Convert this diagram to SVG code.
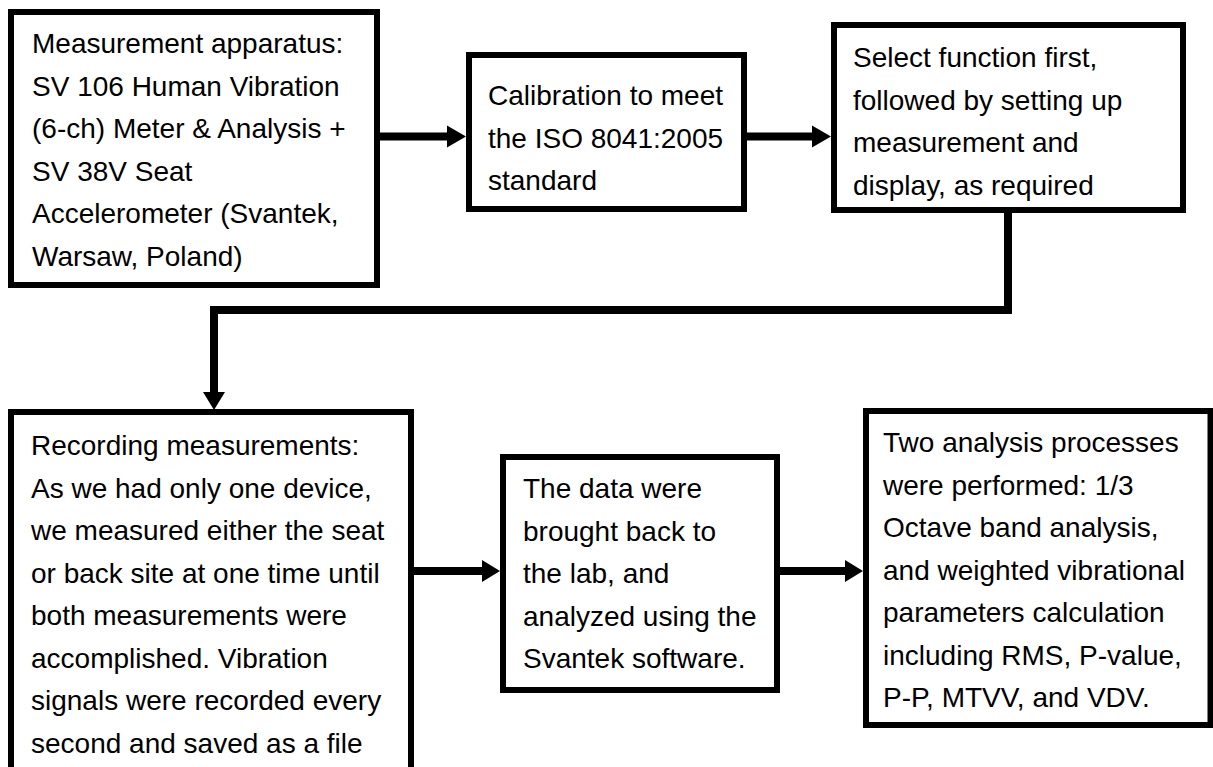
<svg xmlns="http://www.w3.org/2000/svg" width="1213" height="767" viewBox="0 0 1213 767">
<style>
.box{fill:#fff;stroke:#000;stroke-width:6}
.t{font-family:"Liberation Sans",Arial,sans-serif;font-size:28px;fill:#000}
.c{fill:none;stroke:#000;stroke-width:8;stroke-linejoin:miter}
.ah{fill:#000}
</style>
<rect width="1213" height="767" fill="#fff"/>
<g id="connectors">
<line class="c" x1="380" y1="136.5" x2="449" y2="136.5"/>
<polygon class="ah" points="447,125.5 466,136.5 447,147.5"/>
<line class="c" x1="747" y1="136.5" x2="814" y2="136.5"/>
<polygon class="ah" points="812,125.5 831,136.5 812,147.5"/>
<path class="c" d="M1008,213 V310 H214 V393"/>
<polygon class="ah" points="203,392 225,392 214,410"/>
<line class="c" x1="414" y1="571" x2="484" y2="571"/>
<polygon class="ah" points="482,560 500,571 482,582"/>
<line class="c" x1="780" y1="571" x2="847" y2="571"/>
<polygon class="ah" points="845,560 863,571 845,582"/>
</g>
<g id="n1">
<rect class="box" x="11" y="12" width="366" height="273"/>
<text class="t" x="32" y="53">Measurement apparatus:</text>
<text class="t" x="32" y="95.5">SV 106 Human Vibration</text>
<text class="t" x="32" y="138">(6-ch) Meter &amp; Analysis +</text>
<text class="t" x="32" y="180.5">SV 38V Seat</text>
<text class="t" x="32" y="223">Accelerometer (Svantek,</text>
<text class="t" x="32" y="265.5">Warsaw, Poland)</text>
</g>
<g id="n2">
<rect class="box" x="469" y="55" width="275" height="154"/>
<text class="t" x="488" y="105">Calibration to meet</text>
<text class="t" x="488" y="147.5">the ISO 8041:2005</text>
<text class="t" x="488" y="190">standard</text>
</g>
<g id="n3">
<rect class="box" x="834" y="25" width="349" height="185"/>
<text class="t" x="853" y="67">Select function first,</text>
<text class="t" x="853" y="109.5">followed by setting up</text>
<text class="t" x="853" y="152">measurement and</text>
<text class="t" x="853" y="194.5">display, as required</text>
</g>
<g id="n4">
<rect class="box" x="11" y="412" width="400" height="400"/>
<text class="t" x="31" y="455">Recording measurements:</text>
<text class="t" x="31" y="497.5">As we had only one device,</text>
<text class="t" x="31" y="540">we measured either the seat</text>
<text class="t" x="31" y="582.5">or back site at one time until</text>
<text class="t" x="31" y="625">both measurements were</text>
<text class="t" x="31" y="667.5">accomplished. Vibration</text>
<text class="t" x="31" y="710">signals were recorded every</text>
<text class="t" x="31" y="752.5">second and saved as a file</text>
</g>
<g id="n5">
<rect class="box" x="503" y="457" width="274" height="233"/>
<text class="t" x="523" y="498">The data were</text>
<text class="t" x="523" y="540.5">brought back to</text>
<text class="t" x="523" y="583">the lab, and</text>
<text class="t" x="523" y="625.5">analyzed using the</text>
<text class="t" x="523" y="668">Svantek software.</text>
</g>
<g id="n6">
<rect class="box" x="866" y="411" width="344.5" height="314"/>
<text class="t" x="883" y="452">Two analysis processes</text>
<text class="t" x="883" y="494.5">were performed: 1/3</text>
<text class="t" x="883" y="537">Octave band analysis,</text>
<text class="t" x="883" y="579.5">and weighted vibrational</text>
<text class="t" x="883" y="622">parameters calculation</text>
<text class="t" x="883" y="664.5">including RMS, P-value,</text>
<text class="t" x="883" y="707">P-P, MTVV, and VDV.</text>
</g>
</svg>
